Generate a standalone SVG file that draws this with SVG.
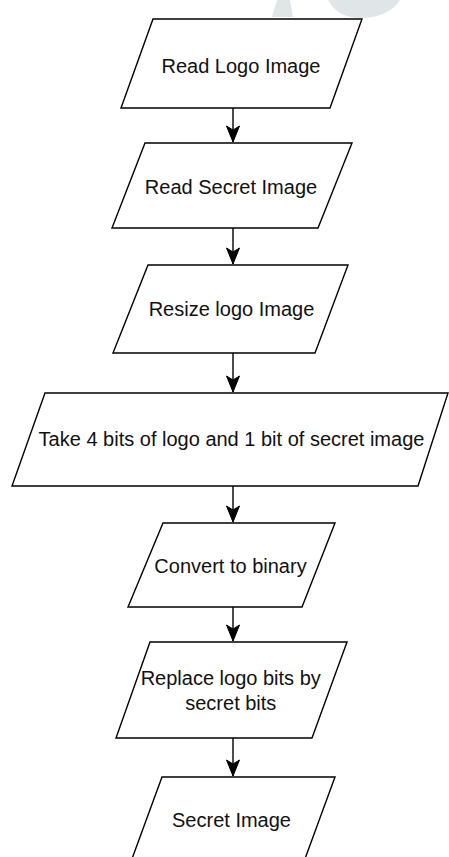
<svg xmlns="http://www.w3.org/2000/svg" width="449" height="857" viewBox="0 0 449 857">
  <style>
    .shape { fill: #ffffff; stroke: #000000; stroke-width: 1.4; stroke-linejoin: miter; }
    .label { font-family: "Liberation Sans", Arial, Helvetica, sans-serif; font-size: 20px; fill: #111111; text-anchor: middle; }
    .edge { stroke: #000000; stroke-width: 1.4; fill: none; }
    .mark { fill: #e0e6e8; }
  </style>
  <defs>
    <!-- notched arrowhead; x axis runs along the connector, tip at the origin -->
    <marker id="arrow" markerUnits="userSpaceOnUse" markerWidth="18" markerHeight="16" viewBox="-17 -8 18 16" refX="0" refY="0" orient="auto">
      <path d="M0,0 L-16,-6.5 L-12,0 L-16,6.5 Z" fill="#000000" stroke="#000000" stroke-width="1" stroke-linejoin="miter"/>
    </marker>
  </defs>

  <rect width="449" height="857" fill="#ffffff"/>

  <!-- faint background artwork at the top edge -->
  <g id="backdrop">
    <path class="mark" d="M272,17 L293,17 L290,0 L277,0 Z"/>
    <path class="mark" d="M328,0 Q338,19 364,18 Q390,16 400,0 Z"/>
  </g>

  <!-- connectors -->
  <g id="connectors">
    <line class="edge" x1="233" y1="108" x2="233" y2="142" marker-end="url(#arrow)"/>
    <line class="edge" x1="233" y1="228" x2="233" y2="264" marker-end="url(#arrow)"/>
    <line class="edge" x1="233" y1="353" x2="233" y2="392" marker-end="url(#arrow)"/>
    <line class="edge" x1="233" y1="486" x2="233" y2="522" marker-end="url(#arrow)"/>
    <line class="edge" x1="233" y1="607" x2="233" y2="641" marker-end="url(#arrow)"/>
    <line class="edge" x1="233" y1="738" x2="233" y2="776" marker-end="url(#arrow)"/>
  </g>

  <g id="read-logo">
    <polygon class="shape" points="153,19 362,19 330,108 121,108"/>
    <text class="label" x="241" y="72.5">Read Logo Image</text>
  </g>

  <g id="read-secret">
    <polygon class="shape" points="145,143 352,143 318,228 112,228"/>
    <text class="label" x="231" y="194">Read Secret Image</text>
  </g>

  <g id="resize-logo">
    <polygon class="shape" points="148,265 348,265 315,353 113,353"/>
    <text class="label" x="231.5" y="315.5">Resize logo Image</text>
  </g>

  <g id="take-bits">
    <polygon class="shape" points="45,393 448,393 418,486 12,486"/>
    <text class="label" x="231.5" y="445.5">Take 4 bits of logo and 1 bit of secret image</text>
  </g>

  <g id="to-binary">
    <polygon class="shape" points="163,523 335,523 302,607 128,607"/>
    <text class="label" x="230.5" y="573">Convert to binary</text>
  </g>

  <g id="replace-bits">
    <polygon class="shape" points="150,642 347,642 312,738 116,738"/>
    <text class="label" x="230.7" y="685">Replace logo bits by</text>
    <text class="label" x="230.8" y="710">secret bits</text>
  </g>

  <g id="secret-image">
    <polygon class="shape" points="162,777 335,777 302,867 129,867"/>
    <text class="label" x="231.5" y="826.5">Secret Image</text>
  </g>
</svg>
